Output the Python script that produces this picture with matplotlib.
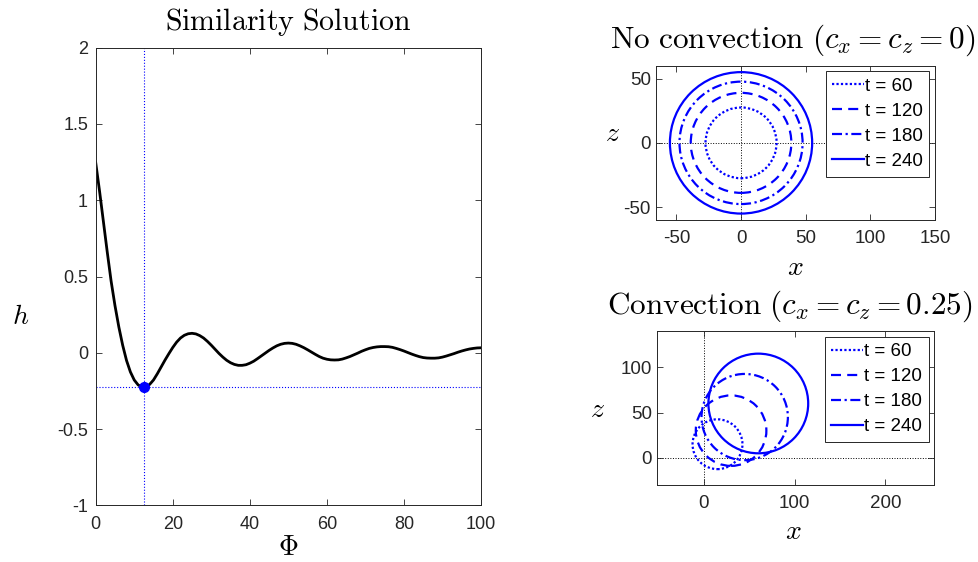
import matplotlib
matplotlib.use("Agg")
import matplotlib.pyplot as plt
from matplotlib.patches import Circle

plt.rcParams['mathtext.fontset'] = 'cm'
plt.rcParams['font.family'] = ['Liberation Sans', 'DejaVu Sans']

# ---------------- data ----------------
phi = [0, 1, 2, 3, 4, 5, 6, 7, 8, 9, 10, 11, 12, 12.6, 13, 14, 15, 16, 17, 18, 19,
       20, 21, 22, 23, 24, 25, 26, 27, 28, 29, 30, 31, 32, 33, 34, 35, 36, 37, 38,
       39, 40, 41, 42, 43, 44, 45, 46, 47, 48, 49, 50, 51, 52, 53, 54, 55, 56, 57,
       58, 59, 60, 61, 62, 63, 64, 65, 66, 67, 68, 69, 70, 71, 72, 73, 74, 75, 76,
       77, 78, 79, 80, 81, 82, 83, 84, 85, 86, 87, 88, 89, 90, 91, 92, 93, 94, 95,
       96, 97, 98, 99, 100]
h = [1.247, 1.06, 0.86, 0.66, 0.47, 0.31, 0.17, 0.05, -0.05, -0.125, -0.178, -0.21,
     -0.224, -0.225, -0.223, -0.207, -0.178, -0.137, -0.092, -0.047, -0.005,
     0.035, 0.07, 0.097, 0.115, 0.125, 0.128, 0.124, 0.113, 0.097, 0.075, 0.05,
     0.023, -0.004, -0.028, -0.049, -0.065, -0.076, -0.082, -0.082, -0.078, -0.068,
     -0.055, -0.038, -0.02, -0.002, 0.016, 0.032, 0.046, 0.056, 0.062, 0.064, 0.062,
     0.056, 0.046, 0.034, 0.02, 0.005, -0.01, -0.024, -0.035, -0.042, -0.046,
     -0.047, -0.046, -0.041, -0.033, -0.024, -0.013, -0.002, 0.01, 0.02, 0.029,
     0.035, 0.039, 0.041, 0.041, 0.04, 0.036, 0.029, 0.021, 0.012, 0.002, -0.008,
     -0.017, -0.025, -0.031, -0.034, -0.035, -0.035, -0.033, -0.028, -0.021,
     -0.013, -0.005, 0.004, 0.012, 0.019, 0.025, 0.029, 0.032, 0.033]
phi_min = 12.6
h_min = -0.225

times = [60, 120, 180, 240]
radii = [27.5, 38.9, 47.6, 55.0]
centers_noconv = [0, 0, 0, 0]
centers_conv = [15, 30, 45, 60]
labels = ['t = 60', 't = 120', 't = 180', 't = 240']

left_xticks = [0, 20, 40, 60, 80, 100]
left_yticks = [-1, -0.5, 0, 0.5, 1, 1.5, 2]
left_yticklabels = ['-1', '-0.5', '0', '0.5', '1', '1.5', '2']
top_xticks = [-50, 0, 50, 100, 150]
top_yticks = [-50, 0, 50]
bot_xticks = [0, 100, 200]
bot_yticks = [0, 50, 100]

# ---------------- styles ----------------
styles = [(0, (1, 1)), (0, (4.5, 2.8)), (0, (4.5, 1.6, 1, 1.6)), '-']
blue = (0, 0, 1)
gray = '0.15'

W, H = 979, 562
fig = plt.figure(figsize=(W / 100, H / 100), dpi=100)


def rect(x0, x1, ytop, ybot):
    return [x0 / W, 1 - ybot / H, (x1 - x0) / W, (ybot - ytop) / H]


def style_axes(ax, fs, xpad, ypad):
    for s in ax.spines.values():
        s.set_color(gray)
        s.set_linewidth(0.7)
    ax.tick_params(direction='in', top=True, right=True, length=4, width=0.6,
                   colors=gray, labelsize=fs)
    ax.tick_params(axis='x', pad=xpad)
    ax.tick_params(axis='y', pad=ypad)


# ---------------- left panel ----------------
ax1 = fig.add_axes(rect(95.7, 481, 47.7, 505.4))
ax1.axvline(phi_min, color=blue, ls=':', lw=0.8, zorder=1)
ax1.axhline(h_min, color=blue, ls=':', lw=0.8, zorder=1)
ax1.plot(phi, h, color='k', lw=2.0, zorder=2)
ax1.plot([phi_min], [h_min], 'o', color=blue, ms=7, zorder=3)
ax1.set_xlim(0, 100)
ax1.set_ylim(-1, 2)
ax1.set_xticks(left_xticks)
ax1.set_xticklabels([str(v) for v in left_xticks])
ax1.set_yticks(left_yticks)
ax1.set_yticklabels(left_yticklabels)
style_axes(ax1, 13, 7.5, 5.5)
ax1.set_xlabel(r'$\Phi$', fontsize=20)
ax1.xaxis.set_label_coords(0.499, -0.094)
ax1.xaxis.label.set_va('center')
ax1.set_ylabel(r'$h$', fontsize=20, rotation=0)
ax1.yaxis.set_label_coords(-0.196, 0.412)
ax1.yaxis.label.set_va('center')
ax1.yaxis.label.set_ha('center')
ax1.text(0.5, 1.056, r'$\mathrm{Similarity\ Solution}$', transform=ax1.transAxes,
         ha='center', va='center', fontsize=21.5)


def circle_panel(ax, centers, xlim, ylim, xticks, yticks):
    ax.axvline(0, color='k', ls=':', lw=0.7, zorder=1)
    ax.axhline(0, color='k', ls=':', lw=0.7, zorder=1)
    handles = []
    for c, r, ls, lab in zip(centers, radii, styles, labels):
        ax.add_patch(Circle((c, c), r, fill=False, ec=blue, lw=1.6, ls=ls, zorder=2))
        ln, = ax.plot([], [], color=blue, lw=1.6, ls=ls, label=lab)
        handles.append(ln)
    ax.set_xlim(*xlim)
    ax.set_ylim(*ylim)
    ax.set_xticks(xticks)
    ax.set_xticklabels([str(v) for v in xticks])
    ax.set_yticks(yticks)
    ax.set_yticklabels([str(v) for v in yticks])
    style_axes(ax, 13.5, 7, 3.5)
    leg = ax.legend(handles=handles, loc='upper right', fontsize=13.5, frameon=True,
                    fancybox=False, edgecolor=gray, framealpha=1, handlelength=1.7,
                    handletextpad=0.05, labelspacing=0.42, borderpad=0.35,
                    borderaxespad=0.3)
    leg.get_frame().set_linewidth(0.7)
    return ax


ax2 = fig.add_axes(rect(655.7, 935, 65.7, 220))
circle_panel(ax2, centers_noconv, (-66, 150), (-60, 60), top_xticks, top_yticks)
ax2.set_xlabel(r'$x$', fontsize=20)
ax2.xaxis.set_label_coords(0.499, -0.311)
ax2.xaxis.label.set_va('center')
ax2.set_ylabel(r'$z$', fontsize=20, rotation=0)
ax2.yaxis.set_label_coords(-0.156, 0.557)
ax2.yaxis.label.set_va('center')
ax2.yaxis.label.set_ha('center')
ax2.text(0.4916, 1.1666, r'$\mathrm{No\ convection}\ (c_x = c_z = 0)$',
         transform=ax2.transAxes, ha='center', va='center', fontsize=22.5)

ax3 = fig.add_axes(rect(656.7, 934.3, 331, 485))
circle_panel(ax3, centers_conv, (-52, 254), (-30, 140), bot_xticks, bot_yticks)
ax3.set_xlabel(r'$x$', fontsize=20)
ax3.xaxis.set_label_coords(0.491, -0.305)
ax3.xaxis.label.set_va('center')
ax3.set_ylabel(r'$z$', fontsize=20, rotation=0)
ax3.yaxis.set_label_coords(-0.215, 0.487)
ax3.yaxis.label.set_va('center')
ax3.yaxis.label.set_ha('center')
ax3.text(0.48, 1.162, r'$\mathrm{Convection}\ (c_x = c_z = 0.25)$',
         transform=ax3.transAxes, ha='center', va='center', fontsize=22.5)

fig.savefig('out.png', dpi=100)
